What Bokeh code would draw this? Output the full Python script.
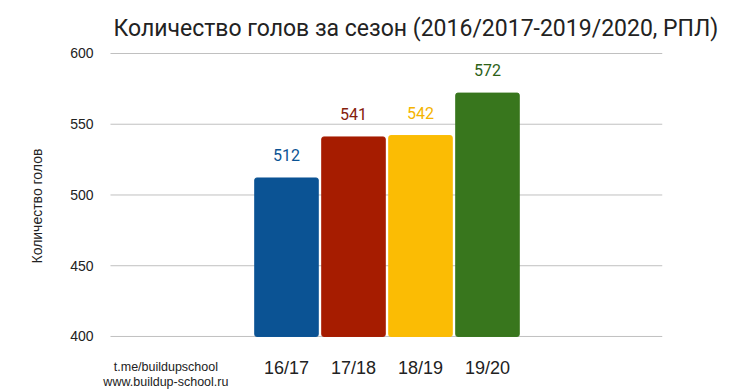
from bokeh.plotting import figure
from bokeh.models import Range1d, FixedTicker, ColumnDataSource, LabelSet, Title
from bokeh.core.properties import value
from bokeh.embed import file_html
from bokeh.resources import INLINE

title_text = "Количество голов за сезон (2016/2017-2019/2020, РПЛ)"
y_title = "Количество голов"
seasons = ["16/17", "17/18", "18/19", "19/20"]
goals = [512, 541, 542, 572]
bar_colors = ["#0b5394", "#a61c00", "#fbbc04", "#38761d"]
label_colors = ["#0b5394", "#85200c", "#f4b400", "#2d6117"]
y_ticks = [400, 450, 500, 550, 600]
watermark = ["t.me/buildupschool", "www.buildup-school.ru"]

# layout constants (data units)
X0, X1 = -2.776, 5.612        # visible x range
GRID_X0 = -2.627              # where grid lines begin
Y0, Y1 = 361.1, 600.7         # visible y range (frame reaches the canvas bottom)
SEASON_Y = 377.4              # baseline of category labels
WM_X = -1.80
WM_Y = [378.4, 367.5]

xs = list(range(len(seasons)))
src = ColumnDataSource(dict(x=xs, top=goals, color=bar_colors, lc=label_colors,
                            txt=[str(g) for g in goals]))

p = figure(width=722, height=391, output_backend="svg", toolbar_location=None,
           x_range=Range1d(X0, X1), y_range=Range1d(Y0, Y1),
           min_border_left=100, min_border_right=60, min_border_top=52, min_border_bottom=0)
p.outline_line_color = None
p.background_fill_color = "white"
p.border_fill_color = "white"

# grid lines
p.xgrid.visible = False
p.ygrid.visible = False
p.segment(x0=[GRID_X0] * len(y_ticks), x1=[X1] * len(y_ticks), y0=y_ticks, y1=y_ticks,
          line_color="#c0c0c0", line_width=1)

p.vbar(x="x", top="top", bottom=y_ticks[0], width=0.948, source=src, fill_color="color",
       line_color="color", line_width=1, border_radius=2)

labels = LabelSet(x="x", y="top", text="txt", source=src, text_color="lc",
                  text_align="center", text_baseline="alphabetic", y_offset=17,
                  text_font=value("Roboto"), text_font_size=value("16px"))
p.add_layout(labels)

# category labels
p.text(x=xs, y=[SEASON_Y] * len(xs), text=seasons, text_align="center",
       text_baseline="alphabetic", text_font=value("Liberation Sans"),
       text_font_size="18px", text_color="#222222")

# watermark
p.text(x=[WM_X, WM_X], y=WM_Y, text=watermark, text_align="center",
       text_baseline="alphabetic", text_font=value("Liberation Sans"),
       text_font_size="12.5px", text_color="#222222")

# title
p.title.text = title_text
p.title.align = "left"
p.title.offset = 13
p.title.text_font = "Roboto"
p.title.text_font_size = "23px"
p.title.text_font_style = "normal"
p.title.text_color = "#222222"
p.title.standoff = 21

# y axis
p.xaxis.visible = False
p.yaxis.ticker = FixedTicker(ticks=y_ticks)
p.yaxis.axis_line_color = None
p.yaxis.major_tick_line_color = None
p.yaxis.minor_tick_line_color = None
p.yaxis.major_label_text_font = "Liberation Sans"
p.yaxis.major_label_text_font_size = "14px"
p.yaxis.major_label_text_color = "#222222"
p.yaxis.major_label_standoff = 1

ytitle = Title(text=y_title, align="left", offset=128, standoff=45,
               text_font="Liberation Sans", text_font_size="14px",
               text_font_style="normal", text_color="#222222")
p.add_layout(ytitle, "left")

open("out.html", "w").write(file_html(p, INLINE))
